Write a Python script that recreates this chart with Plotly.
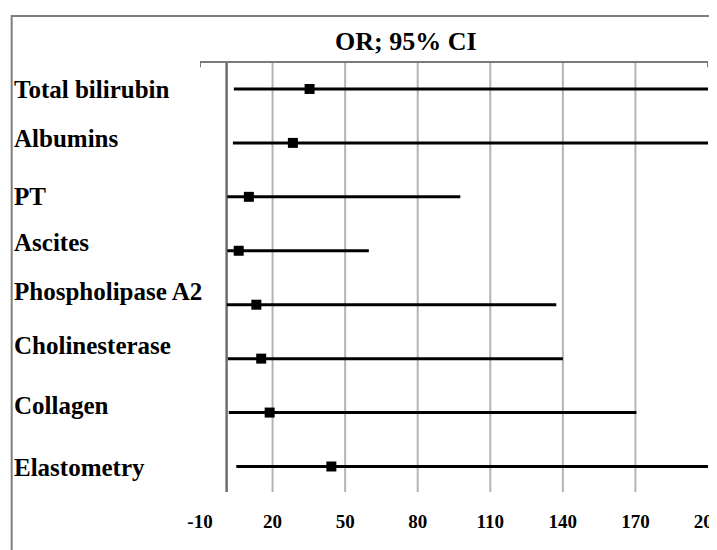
import plotly.graph_objects as go

# ---- data ----
categories = ["Total bilirubin", "Albumins", "PT", "Ascites",
              "Phospholipase A2", "Cholinesterase", "Collagen", "Elastometry"]
odds_ratio = [35.3, 28.4, 10.2, 6.0, 13.3, 15.3, 18.8, 44.3]
ci_low = [4.0, 3.6, 1.3, 1.3, 1.1, 1.5, 1.9, 5.0]
ci_high = [200, 200, 97.6, 59.8, 137.3, 140.0, 170.4, 200]
tick_values = [-10, 20, 50, 80, 110, 140, 170, 200]
tick_labels = ["-10", "20", "50", "80", "110", "140", "170", "200"]
grid_values = [20, 50, 80, 110, 140, 170]
reference_or = 1
title_text = "OR; 95% CI"

# label vertical nudges (px) to match the reference placement
label_shift = [-1, 4, 0, 8, 13.5, 13.5, 7.5, -1.5]

PAGE_OFF = 8  # default body margin of the html page
W, H = 717 - PAGE_OFF, 550 - PAGE_OFF
ML, MR, MT, MB = 192, 8.5, 54, 58
PW = W - ML - MR
PH = H - MT - MB


def px_to_paper_x(px):
    return (px - PAGE_OFF - ML) / PW


def px_to_paper_y(py):
    return (H - MB - (py - PAGE_OFF)) / PH


FONT = "Liberation Serif"

fig = go.Figure()
fig.add_trace(go.Scatter(
    x=odds_ratio, y=categories, mode="markers",
    marker=dict(symbol="square", size=10, color="black"),
    error_x=dict(type="data", symmetric=False,
                 array=[h - o for h, o in zip(ci_high, odds_ratio)],
                 arrayminus=[o - l for o, l in zip(odds_ratio, ci_low)],
                 color="black", thickness=3, width=0),
    showlegend=False, hoverinfo="skip",
))

shapes = []
for g in grid_values:
    shapes.append(dict(type="line", xref="x", yref="paper", x0=g, x1=g, y0=0, y1=1,
                       line=dict(color="#b4b4b4", width=2), layer="below"))
shapes.append(dict(type="line", xref="x", yref="paper", x0=reference_or, x1=reference_or,
                   y0=0, y1=1, line=dict(color="#6e6e6e", width=2.5), layer="below"))
# top axis bracket
x_lo, x_hi = tick_values[0], tick_values[-1]
shapes.append(dict(type="path", xref="x", yref="paper",
                   path=f"M {x_lo},0.988 L {x_lo},1 L {x_hi},1 L {x_hi},0.988",
                   line=dict(color="#7a7a7a", width=2), layer="above"))
# outer frame
shapes.append(dict(type="rect", xref="paper", yref="paper",
                   x0=px_to_paper_x(11.5), x1=1.3, y0=-0.3, y1=px_to_paper_y(16),
                   line=dict(color="#7f7f7f", width=2), layer="below"))

annotations = []
for cat, sh in zip(categories, label_shift):
    annotations.append(dict(x=px_to_paper_x(12), xref="paper", y=cat, yref="y",
                            xanchor="left", yanchor="middle", yshift=sh,
                            text=cat, showarrow=False,
                            font=dict(family=FONT, size=25, color="black", weight="bold")))
annotations.append(dict(x=px_to_paper_x(406), y=px_to_paper_y(42), xref="paper", yref="paper",
                        xanchor="center", yanchor="middle", text=title_text, showarrow=False,
                        font=dict(family=FONT, size=26, color="black", weight="bold")))

fig.update_layout(
    width=W, height=H,
    margin=dict(l=ML, r=MR, t=MT, b=MB, pad=0, autoexpand=False),
    paper_bgcolor="white", plot_bgcolor="white",
    shapes=shapes, annotations=annotations,
    xaxis=dict(range=[x_lo, x_hi], tickvals=tick_values, ticktext=tick_labels,
               showgrid=False, zeroline=False, showline=False, ticks="",
               automargin=False, ticklabelstandoff=16, ticklabeloverflow="allow",
               tickfont=dict(family=FONT, size=19, color="black", weight="bold")),
    yaxis=dict(type="category", categoryorder="array", categoryarray=categories,
               range=[7.473, -0.5], showgrid=False, zeroline=False, showline=False,
               showticklabels=False, ticks=""),
)

fig.write_html("out.html")
